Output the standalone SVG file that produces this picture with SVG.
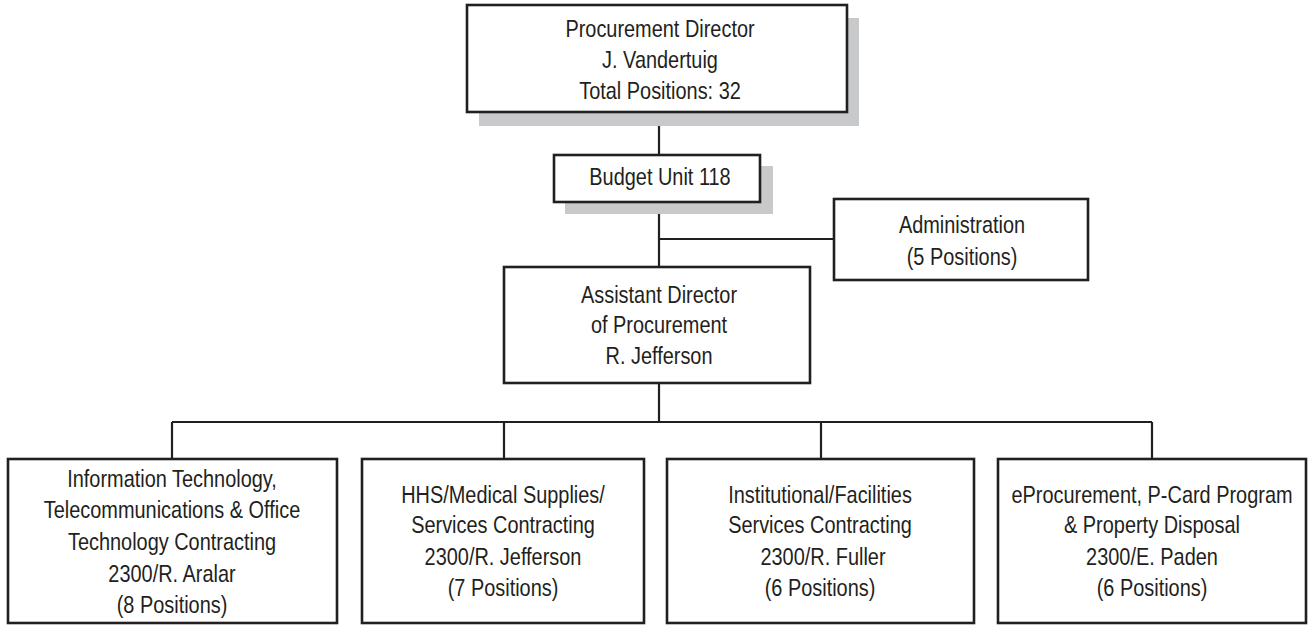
<svg xmlns="http://www.w3.org/2000/svg" width="1312" height="625" viewBox="0 0 1312 625">
<style>
.box{fill:#fff;stroke:#231f20;stroke-width:2.6}
.shadow{fill:#c8c9ca;stroke:none}
.conn{stroke:#231f20;stroke-width:2.2;fill:none}
text{font-family:"Liberation Sans",Arial,sans-serif;font-size:24px;fill:#231f20;text-anchor:middle}
</style>
<rect width="1312" height="625" fill="#fff"/>
<g id="connectors">
<path class="conn" d="M659,112 V155 M659,202 V267 M659,239 H834 M659,383 V422 M172,422 H1152 M172,422 V459 M504,422 V459 M821,422 V459 M1152,422 V459"/>
</g>
<g id="director">
<rect class="shadow" x="479" y="18" width="380" height="108"/>
<rect class="box" x="467" y="5" width="380" height="107"/>
<text transform="translate(660 37) scale(0.83 1)">Procurement Director</text>
<text transform="translate(660 68) scale(0.83 1)">J. Vandertuig</text>
<text transform="translate(660 99) scale(0.83 1)">Total Positions: 32</text>
</g>
<g id="budget">
<rect class="shadow" x="565" y="166" width="208" height="48"/>
<rect class="box" x="554" y="155" width="206" height="47"/>
<text transform="translate(660 185) scale(0.83 1)">Budget Unit 118</text>
</g>
<g id="administration">
<rect class="box" x="834" y="199" width="254" height="81"/>
<text transform="translate(962 233) scale(0.83 1)">Administration</text>
<text transform="translate(962 265) scale(0.83 1)">(5 Positions)</text>
</g>
<g id="assistant">
<rect class="box" x="504" y="267" width="306" height="116"/>
<text transform="translate(659 303) scale(0.83 1)">Assistant Director</text>
<text transform="translate(659 333) scale(0.83 1)">of Procurement</text>
<text transform="translate(659 364) scale(0.83 1)">R. Jefferson</text>
</g>
<g id="it">
<rect class="box" x="8" y="459" width="329" height="164"/>
<text transform="translate(172 487) scale(0.83 1)">Information Technology,</text>
<text transform="translate(172 518) scale(0.83 1)">Telecommunications &amp; Office</text>
<text transform="translate(172 550) scale(0.83 1)">Technology Contracting</text>
<text transform="translate(172 582) scale(0.83 1)">2300/R. Aralar</text>
<text transform="translate(172 613) scale(0.83 1)">(8 Positions)</text>
</g>
<g id="hhs">
<rect class="box" x="362" y="459" width="282" height="164"/>
<text transform="translate(503 503) scale(0.83 1)">HHS/Medical Supplies/</text>
<text transform="translate(503 533) scale(0.83 1)">Services Contracting</text>
<text transform="translate(503 565) scale(0.83 1)">2300/R. Jefferson</text>
<text transform="translate(503 596) scale(0.83 1)">(7 Positions)</text>
</g>
<g id="institutional">
<rect class="box" x="667" y="459" width="307" height="164"/>
<text transform="translate(820 503) scale(0.83 1)">Institutional/Facilities</text>
<text transform="translate(820 533) scale(0.83 1)">Services Contracting</text>
<text transform="translate(823 565) scale(0.83 1)">2300/R. Fuller</text>
<text transform="translate(820 596) scale(0.83 1)">(6 Positions)</text>
</g>
<g id="eprocurement">
<rect class="box" x="998" y="459" width="308" height="164"/>
<text transform="translate(1152 503) scale(0.83 1)">eProcurement, P-Card Program</text>
<text transform="translate(1152 533) scale(0.83 1)">&amp; Property Disposal</text>
<text transform="translate(1152 565) scale(0.83 1)">2300/E. Paden</text>
<text transform="translate(1152 596) scale(0.83 1)">(6 Positions)</text>
</g>
</svg>
